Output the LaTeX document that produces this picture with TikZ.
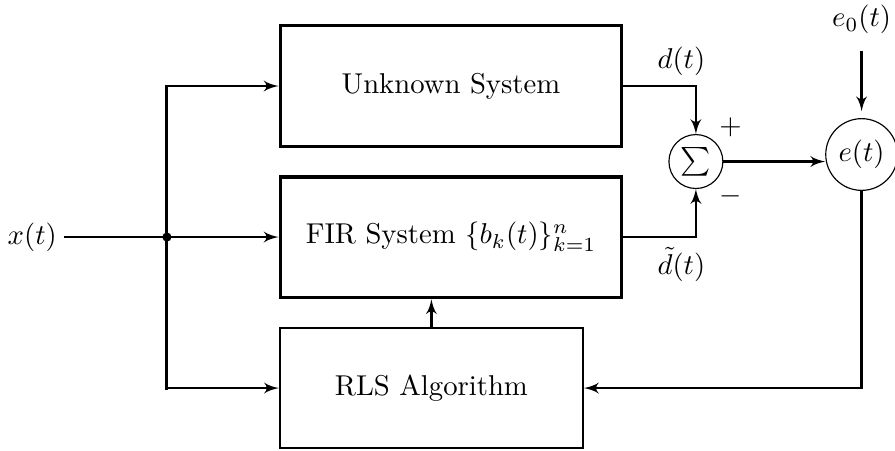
\documentclass[tikz,border=0pt]{standalone}
\usetikzlibrary{shapes,arrows}
\begin{document}
\begin{tikzpicture}[node distance = 2cm, auto, thick]
  \tikzstyle{block} = [rectangle, draw, line width=1.3pt, text centered,
    minimum width=4.18cm, minimum height=1.48cm]
  \tikzstyle{algo} = [rectangle, draw, text centered, minimum width=3.71cm,
    minimum height=1.47cm]
  \tikzstyle{junction} = [circle, draw, thin, inner sep=1pt]
  \tikzstyle{line} = [draw, -latex']

  \useasboundingbox (-5.525,-4.459) rectangle (5.439,1.054);

  % Place nodes
  \node [block] (unknown) {Unknown System};
  \node [block, below of=unknown, node distance=1.85cm] (fir) {FIR System
    $\{b_k(t)\}_{k=1}^{n}$};
  \node [algo, below of=fir, node distance=1.85cm, xshift=-0.24cm] (rls) {RLS
    Algorithm};
  \node [junction, minimum size=18.8pt, right of=unknown, node distance=3cm,
    yshift=-0.925cm] (sum) {$\sum$};
  \node [junction, minimum size=25pt, right of=sum, node distance=2.03cm,
    yshift=0.086cm] (err) {$e(t)$};
  \node [above of=err, node distance=1.65cm] (noise) {$e_0(t)$};
  \node [left of=fir, node distance=5.13cm, inner sep=2pt] (input) {$x(t)$};
  \node [above right of=sum, node distance=0.6cm] (plus) {$+$};
  \node [below right of=sum, node distance=0.6cm] (minus) {$-$};
  \coordinate [left of=fir, node distance=3.48cm] (split);

  % Draw edges
  \draw (input) -- (split);
  \draw [line cap=rect, line width=1pt] (split |- unknown) -- (split |- rls);
  \fill (split) circle (1.6pt);

  \path [line] (split |- unknown) -- (unknown);
  \path [line] (split) -- (fir);
  \path [line] (split |- rls) -- (rls);

  \path [line] (unknown) -| node [pos=0.4, above] {$d(t)$} (sum);
  \path [line] (fir) -| node [pos=0.4, below] {$\tilde{d}(t)$} (sum);

  \path [line] (sum) -- (sum -| err.west);
  \path [line, shorten <=2pt, shorten >=2.4pt] (noise) -- (err);

  \path [line] (err) |- (rls);
  \path [line] (rls) -- (rls |- fir.south);

\end{tikzpicture}
\end{document}
